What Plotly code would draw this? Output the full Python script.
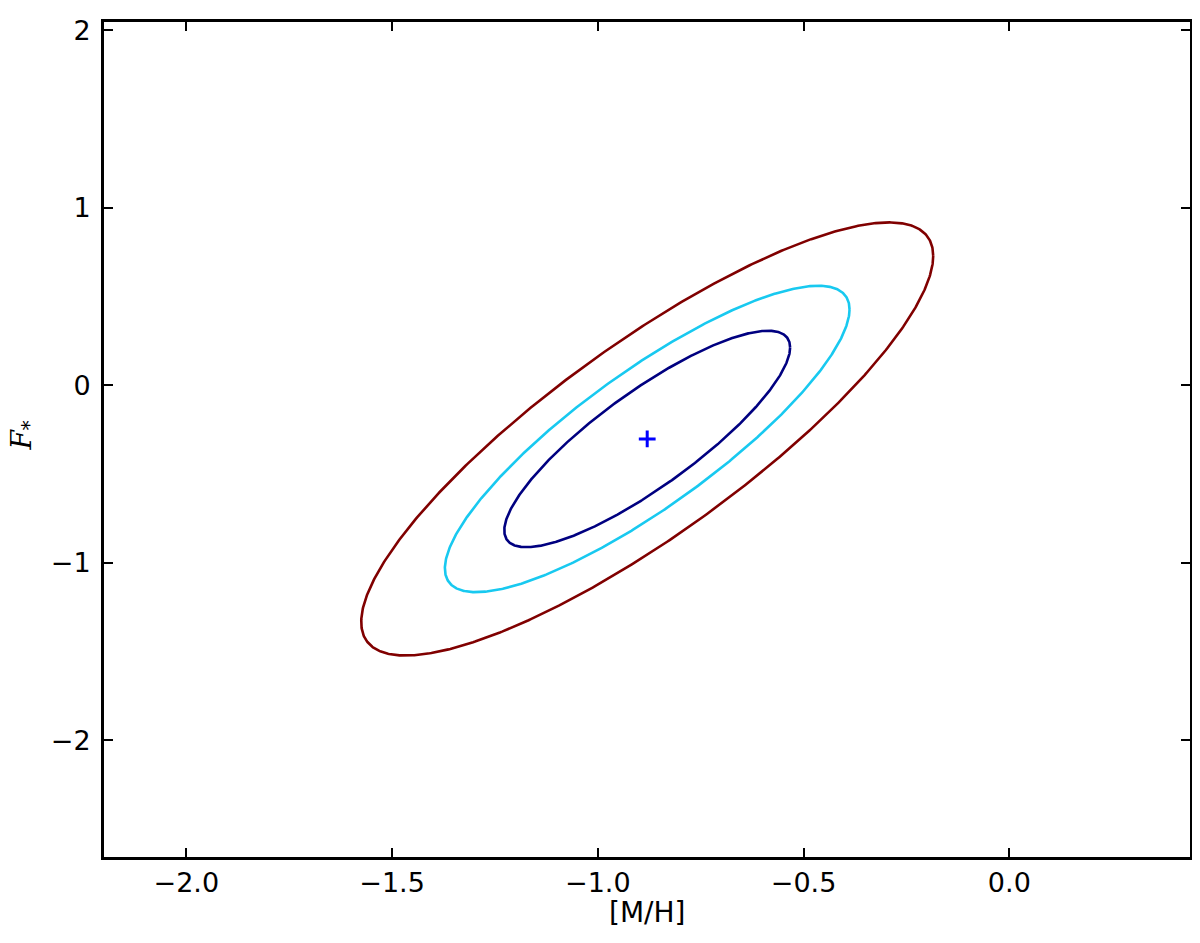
import numpy as np
import plotly.graph_objects as go

# Best-fit point and Gaussian likelihood parameters
center_mh = -0.880
center_f = -0.303
sigma_mh = 0.229
sigma_f = 0.402
rho = 0.845
delta_chi2 = [2.30, 4.61, 9.21]          # 68.3%, 90%, 99% confidence levels
level_colors = ["#000080", "#18c9f0", "#800000"]

x_ticks = [-2.0, -1.5, -1.0, -0.5, 0.0]
x_ticktext = ["−2.0", "−1.5", "−1.0", "−0.5", "0.0"]
y_ticks = [-2, -1, 0, 1, 2]
y_ticktext = ["−2", "−1", "0", "1", "2"]
x_range = [-2.2, 0.439]
y_range = [-2.658, 2.046]

FONT = "DejaVu Sans"

# page body adds an 8px margin, so the figure is sized to fit the window
W, H = 1192, 935
ML, MR, MT, MB = 96, 9, 7, 86
plot_w = W - ML - MR
plot_h = H - MT - MB

fig = go.Figure()

t = np.linspace(0, 2 * np.pi, 721)
for d, col in zip(delta_chi2, level_colors):
    k = np.sqrt(d)
    xs = center_mh + k * sigma_mh * np.cos(t)
    ys = center_f + k * sigma_f * (rho * np.cos(t) + np.sqrt(1 - rho ** 2) * np.sin(t))
    fig.add_trace(go.Scatter(x=xs, y=ys, mode="lines",
                             line=dict(color=col, width=2.6),
                             hoverinfo="skip", showlegend=False))

fig.add_trace(go.Scatter(x=[center_mh], y=[center_f], mode="markers",
                         marker=dict(symbol="cross-thin", size=12,
                                     line=dict(color="#0000ff", width=3)),
                         showlegend=False))

axis_common = dict(showline=True, linecolor="black", linewidth=3, mirror="allticks",
                   ticks="inside", ticklen=9, tickwidth=1.5, tickcolor="black",
                   showgrid=False, zeroline=False,
                   tickfont=dict(family=FONT, size=27, color="black"))

fig.update_xaxes(range=x_range, tickvals=x_ticks, ticktext=x_ticktext, **axis_common)
fig.update_yaxes(range=y_range, tickvals=y_ticks, ticktext=y_ticktext,
                 ticklabelstandoff=5, **axis_common)

fig.add_annotation(text="[M/H]", xref="paper", yref="paper",
                   x=0.5, y=-(905 - (H - MB)) / plot_h,
                   xanchor="center", yanchor="middle", showarrow=False,
                   font=dict(family=FONT, size=28, color="black"))
fig.add_annotation(text="<i>F</i><sub>*</sub>", xref="paper", yref="paper",
                   x=(15 - ML) / plot_w, y=(H - MB - (432 - 8)) / plot_h,
                   xanchor="center", yanchor="middle",
                   showarrow=False, textangle=-90,
                   font=dict(family="DejaVu Serif", size=28, color="black"))

fig.update_layout(width=W, height=H,
                  margin=dict(l=ML, r=MR, t=MT, b=MB),
                  plot_bgcolor="white", paper_bgcolor="white",
                  showlegend=False)

fig.write_html("out.html")
